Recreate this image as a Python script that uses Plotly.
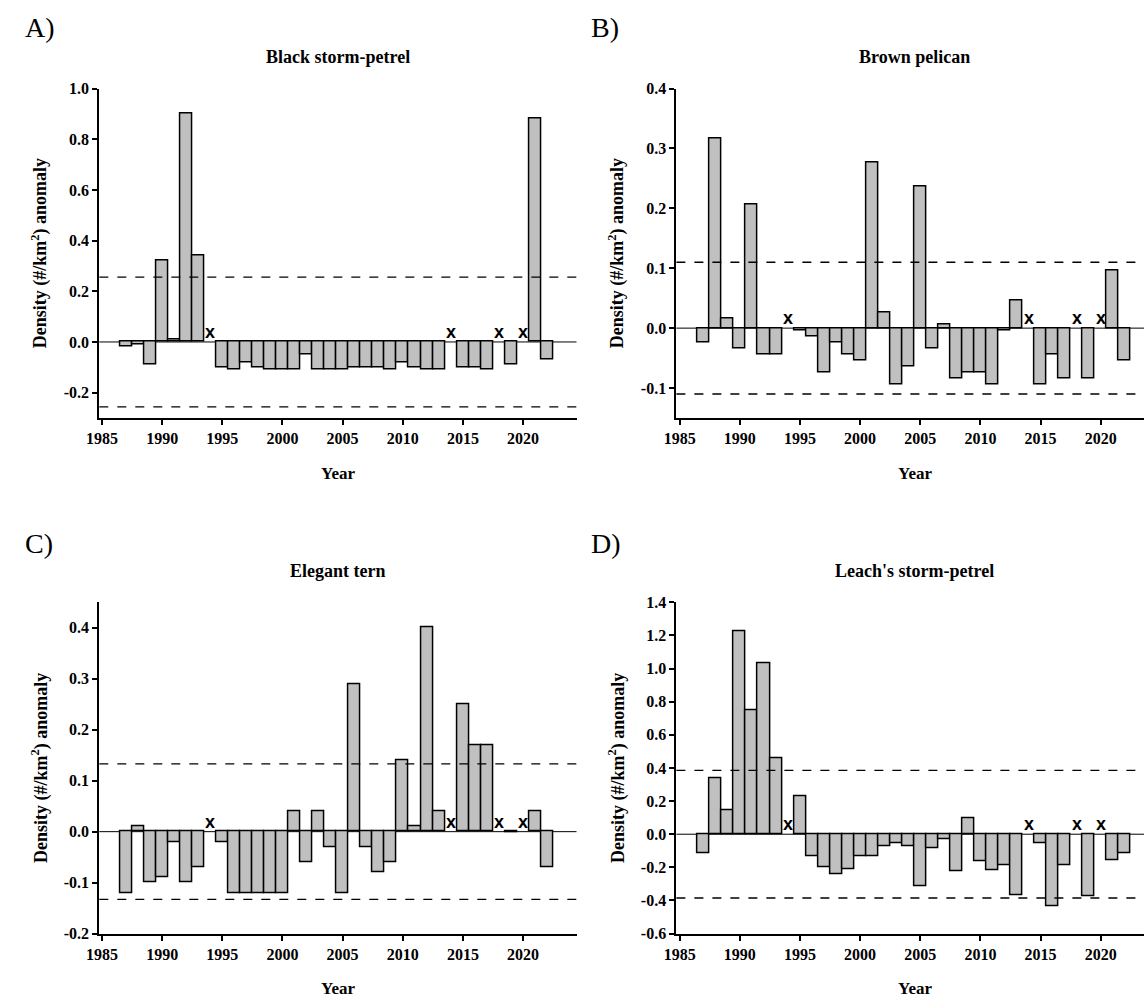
import plotly.graph_objects as go

years = list(range(1987, 2023))
missing_years = [1994, 2014, 2018, 2020]

black_storm_petrel = [-0.02, -0.01, -0.09, 0.32, 0.01, 0.90, 0.34, None, -0.10, -0.11, -0.08, -0.10,
                      -0.11, -0.11, -0.11, -0.05, -0.11, -0.11, -0.11, -0.10, -0.10, -0.10, -0.11, -0.08,
                      -0.10, -0.11, -0.11, None, -0.10, -0.10, -0.11, None, -0.09, None, 0.88, -0.07]
brown_pelican = [-0.024, 0.316, 0.016, -0.034, 0.206, -0.044, -0.044, None, -0.004, -0.014, -0.074, -0.024,
                 -0.044, -0.054, 0.276, 0.026, -0.094, -0.064, 0.236, -0.034, 0.006, -0.084, -0.074, -0.074,
                 -0.094, -0.004, 0.046, None, -0.094, -0.044, -0.084, None, -0.084, None, 0.096, -0.054]
elegant_tern = [-0.12, 0.01, -0.10, -0.09, -0.02, -0.10, -0.07, None, -0.02, -0.12, -0.12, -0.12,
                -0.12, -0.12, 0.04, -0.06, 0.04, -0.03, -0.12, 0.29, -0.03, -0.08, -0.06, 0.14,
                0.01, 0.40, 0.04, None, 0.25, 0.17, 0.17, None, -0.002, None, 0.04, -0.07]
leachs_storm_petrel = [-0.115, 0.337, 0.147, 1.226, 0.747, 1.034, 0.457, None, 0.226, -0.136, -0.20, -0.244,
                       -0.214, -0.136, -0.136, -0.074, -0.054, -0.074, -0.316, -0.084, -0.032, -0.226, 0.095, -0.166,
                       -0.216, -0.186, -0.366, None, -0.054, -0.436, -0.186, None, -0.376, None, -0.156, -0.114]

panel_letters = ["A)", "B)", "C)", "D)"]
panel_titles = ["Black storm-petrel", "Brown pelican", "Elegant tern", "Leach's storm-petrel"]
series = [black_storm_petrel, brown_pelican, elegant_tern, leachs_storm_petrel]
thresholds = [0.256, 0.11, 0.133, 0.385]
y_ranges = [(-0.3, 1.0), (-0.15, 0.4), (-0.2, 0.45), (-0.6, 1.4)]
y_ticks = [
    [-0.2, 0.0, 0.2, 0.4, 0.6, 0.8, 1.0],
    [-0.1, 0.0, 0.1, 0.2, 0.3, 0.4],
    [-0.2, -0.1, 0.0, 0.1, 0.2, 0.3, 0.4],
    [-0.6, -0.4, -0.2, 0.0, 0.2, 0.4, 0.6, 0.8, 1.0, 1.2, 1.4],
]
x_ticks = [1985, 1990, 1995, 2000, 2005, 2010, 2015, 2020]

W, H = 1144, 1007
# plot-area pixel boxes (left, right, top, bottom)
boxes = [(87.3, 570.0, 82.0, 417.0), (671.0, 1144.0, 82.0, 417.0),
         (87.3, 570.0, 604.5, 941.5), (671.0, 1144.0, 604.5, 941.5)]
px_per_year = 12.17
year0_px = [90.0, 674.3, 90.0, 674.3]
panel_w = 570.0 - 87.3

SERIF = "Liberation Serif"
fig = go.Figure()
layout = dict(width=W, height=H, margin=dict(l=0, r=0, t=0, b=0),
              plot_bgcolor="white", paper_bgcolor="white", showlegend=False, bargap=0)
annotations = []
shapes = []

for i in range(4):
    sfx = "" if i == 0 else str(i + 1)
    L, R, T, B = boxes[i]
    x0 = 1985 - (year0_px[i] - L) / px_per_year
    x1 = 1985 + (R - year0_px[i]) / px_per_year
    fig.add_trace(go.Bar(x=years, y=series[i], width=1.0, base=0,
                         marker=dict(color="#c0c0c0", line=dict(color="black", width=1.5)),
                         xaxis="x" + sfx, yaxis="y" + sfx, hoverinfo="x+y"))
    layout["xaxis" + sfx] = dict(
        domain=[L / W, R / W], range=[x0, x1], anchor="y" + sfx,
        tickvals=x_ticks, ticktext=[str(v) for v in x_ticks],
        ticks="outside", ticklen=5, tickwidth=2, tickcolor="black",
        showline=True, linewidth=2, linecolor="black", showgrid=False, zeroline=False,
        tickfont=dict(family=SERIF, size=16, color="black", weight="bold"),
    )
    layout["yaxis" + sfx] = dict(
        domain=[1 - B / H, 1 - T / H], range=list(y_ranges[i]), anchor="x" + sfx,
        tickvals=y_ticks[i], ticktext=[f"{v:.1f}" for v in y_ticks[i]],
        ticks="outside", ticklen=5, tickwidth=2, tickcolor="black",
        showline=True, linewidth=2, linecolor="black", showgrid=False, zeroline=False,
        tickfont=dict(family=SERIF, size=16, color="black", weight="bold"),
    )
    xr = "x" + sfx
    yr = "y" + sfx
    shapes.append(dict(type="line", xref=xr + " domain", yref=yr, x0=0, x1=1, y0=0, y1=0,
                       line=dict(color="black", width=1), layer="below"))
    for t in (thresholds[i], -thresholds[i]):
        shapes.append(dict(type="line", xref=xr + " domain", yref=yr, x0=0, x1=1, y0=t, y1=t,
                           line=dict(color="black", width=1.3, dash="dash"), layer="above"))
    for yr_m in missing_years:
        annotations.append(dict(x=yr_m, y=0, xref=xr, yref=yr, text="x", showarrow=False,
                                yanchor="middle", yshift=10,
                                font=dict(family="Liberation Sans", size=18, color="black", weight="bold")))
    cx = (L + panel_w / 2) / W
    annotations.append(dict(x=cx, y=1 - (50 if i < 2 else 573) / H, xref="paper", yref="paper",
                            text=panel_titles[i], showarrow=False, xanchor="center", yanchor="middle",
                            font=dict(family=SERIF, size=18, color="black", weight="bold")))
    annotations.append(dict(x=cx, y=1 - (474 if i < 2 else 997) / H, xref="paper", yref="paper",
                            text="Year", showarrow=False, xanchor="center", yanchor="middle",
                            font=dict(family=SERIF, size=17, color="black", weight="bold")))
    annotations.append(dict(x=(L - 60) / W, y=1 - (T + B) / 2 / H, xref="paper", yref="paper",
                            text="Density (#/km<sup>2</sup>) anomaly", textangle=-90, showarrow=False,
                            xanchor="center", yanchor="middle",
                            font=dict(family=SERIF, size=18, color="black", weight="bold")))
    lx = 10 if i % 2 == 0 else 583
    ly = 20 if i < 2 else 545
    annotations.append(dict(x=lx / W, y=1 - ly / H, xref="paper", yref="paper", text=panel_letters[i],
                            showarrow=False, xanchor="left", yanchor="middle",
                            font=dict(family=SERIF, size=28, color="black")))

layout["annotations"] = annotations
layout["shapes"] = shapes
fig.update_layout(**layout)
fig.write_html("out.html")
